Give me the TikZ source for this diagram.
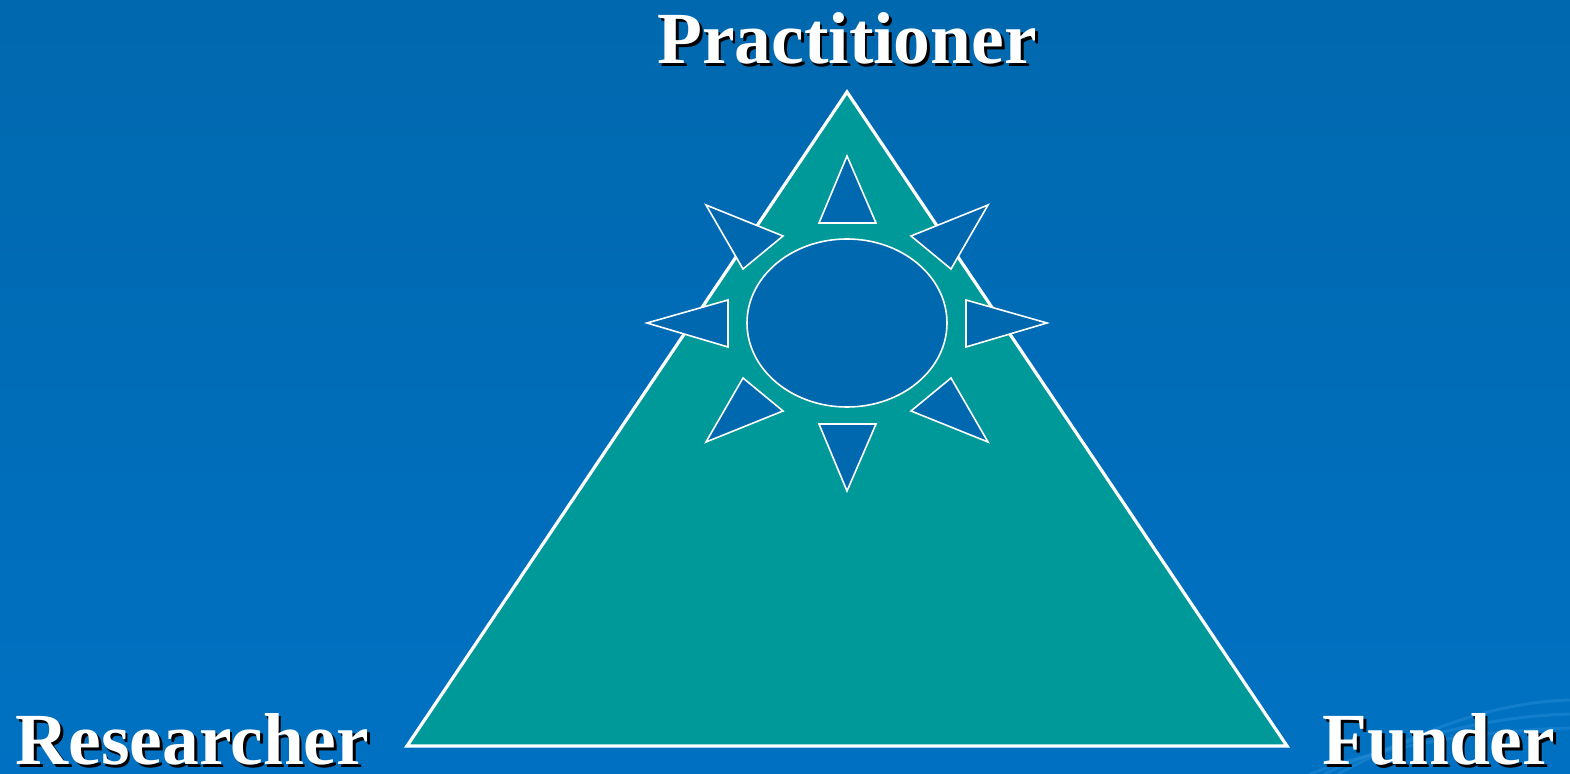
\documentclass[tikz,border=0pt]{standalone}
\usepackage{fontspec}
\setmainfont{Liberation Serif}
\definecolor{slideblue}{HTML}{0068AE}
\definecolor{slidebluelow}{HTML}{0071C2}
\definecolor{wavelight}{HTML}{2A8FD8}
\definecolor{teal}{HTML}{009999}
\tikzset{
  role/.style={font=\fontsize{36.75pt}{40pt}\selectfont\bfseries, text=white, inner sep=0pt},
  role shadow/.style={role, text=black},
  spike/.style={draw=white, line width=0.8pt, fill=slideblue, line join=miter}
}
\newcommand{\rolelabel}[4]{%
  \node[role shadow, anchor=#3] (#1s) at ([xshift=1.4pt,yshift=-1.4pt]#2) {#4};
  \node[role, anchor=#3] (#1) at (#2) {#4};}
\begin{document}
\begin{tikzpicture}[x=0.5pt,y=-0.5pt]

  % Hintergrund
  \shade[top color=slideblue, bottom color=slidebluelow] (0,0) rectangle (1570,774);
  \useasboundingbox (0,0) rectangle (1570,774);
  \foreach \d in {0,14,28}{
    \draw[wavelight, opacity=0.45, line width=1.5pt]
      (1310+\d,774) .. controls (1400+\d,740-\d/2) and (1500,730-\d) .. (1570,728-\d);
  }

  % Dreieck
  \coordinate (top) at (847,92);
  \coordinate (left) at (407,746);
  \coordinate (right) at (1287,746);
  \draw[white, line width=1.6pt, fill=teal] (top) -- (left) -- (right) -- cycle;

  % Mitte
  \draw[white, line width=0.8pt, fill=slideblue] (847,323) ellipse (100 and 84);

  % Zacken rundherum
  \foreach \a/\b/\c in {{847,156}/{819,223}/{876,223},
                        {847,491}/{819,424}/{876,424},
                        {647,323}/{728,300}/{728,347},
                        {1047,323}/{966,300}/{966,347},
                        {706,205}/{783,236}/{743,269},
                        {988,205}/{911,236}/{951,269},
                        {706,442}/{783,411}/{743,378},
                        {988,442}/{911,411}/{951,378}}{
    \draw[spike] (\a) -- (\b) -- (\c) -- cycle;
  }

  % Beschriftung
  \rolelabel{prac}{847,64}{base}{Practitioner}
  \rolelabel{res}{15,765}{base west}{Researcher}
  \rolelabel{fund}{1322,765}{base west}{Funder}

\end{tikzpicture}
\end{document}
